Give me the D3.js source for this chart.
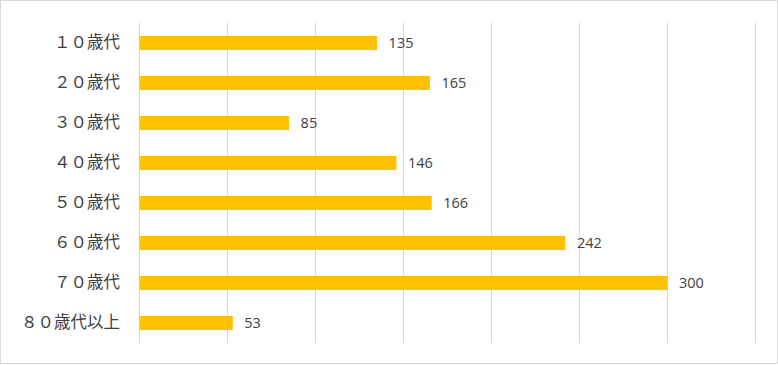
<!DOCTYPE html>
<html>
<head>
<meta charset="utf-8">
<script src="https://cdn.jsdelivr.net/npm/d3@7"></script>
<style>
  body { margin: 0; background: #fff; }
  svg { display: block; }
</style>
</head>
<body>
<svg width="778" height="365"></svg>
<script>
const categories = ['１０歳代', '２０歳代', '３０歳代', '４０歳代', '５０歳代', '６０歳代', '７０歳代', '８０歳代以上'];
const values = [135, 165, 85, 146, 166, 242, 300, 53];
const ticks = [0, 50, 100, 150, 200, 250, 300, 350];

const svg = d3.select('svg');
const width = +svg.attr('width');
const height = +svg.attr('height');

const margin = { top: 23, right: 23, bottom: 22, left: 139 };

// chart border
svg.append('rect')
  .attr('x', 0.5).attr('y', 0.5)
  .attr('width', width - 1).attr('height', height - 2)
  .attr('fill', '#fff')
  .attr('stroke', '#d9d9d9');

const g = svg.append('g')
  .attr('transform', `translate(${margin.left}, ${margin.top})`);

const xScale = d3.scaleLinear()
  .domain([0, 350])
  .range([0, 616]);

const yScale = d3.scaleBand()
  .domain(categories)
  .range([0, 320])
  .paddingInner(0.65)
  .paddingOuter(0.325);

// gridlines
const xAxis = d3.axisBottom(xScale)
  .tickValues(ticks)
  .tickSize(-320)
  .tickFormat('');

g.append('g')
  .attr('class', 'x-grid')
  .attr('transform', 'translate(0, 320)')
  .call(xAxis)
  .call(s => s.select('.domain').remove())
  .call(s => s.selectAll('line').attr('stroke', '#d9d9d9').attr('stroke-width', 1));

// bars
g.selectAll('.bar')
  .data(values)
  .enter().append('rect')
    .attr('class', 'bar')
    .attr('x', xScale(0) + 0.5)
    .attr('y', (d, i) => yScale(categories[i]))
    .attr('width', d => xScale(d) - xScale(0))
    .attr('height', yScale.bandwidth())
    .attr('fill', '#ffc000');

// value labels
g.selectAll('.val')
  .data(values)
  .enter().append('text')
    .attr('class', 'val')
    .attr('x', d => xScale(d) + 12)
    .attr('y', (d, i) => yScale(categories[i]) + yScale.bandwidth() / 2)
    .attr('dy', '0.37em')
    .attr('fill', '#404040')
    .style('font-family', '"Open Sans", "Noto Sans", sans-serif')
    .style('font-size', '14.5px')
    .text(d => d);

// category labels
const yAxis = d3.axisLeft(yScale).tickSize(0).tickPadding(19);
g.append('g')
  .attr('class', 'y-axis')
  .call(yAxis)
  .call(s => s.select('.domain').remove())
  .call(s => s.selectAll('text')
    .attr('fill', '#404040')
    .style('font-family', '"Noto Sans CJK JP", sans-serif')
    .style('font-size', '16.5px'));
</script>
</body>
</html>
